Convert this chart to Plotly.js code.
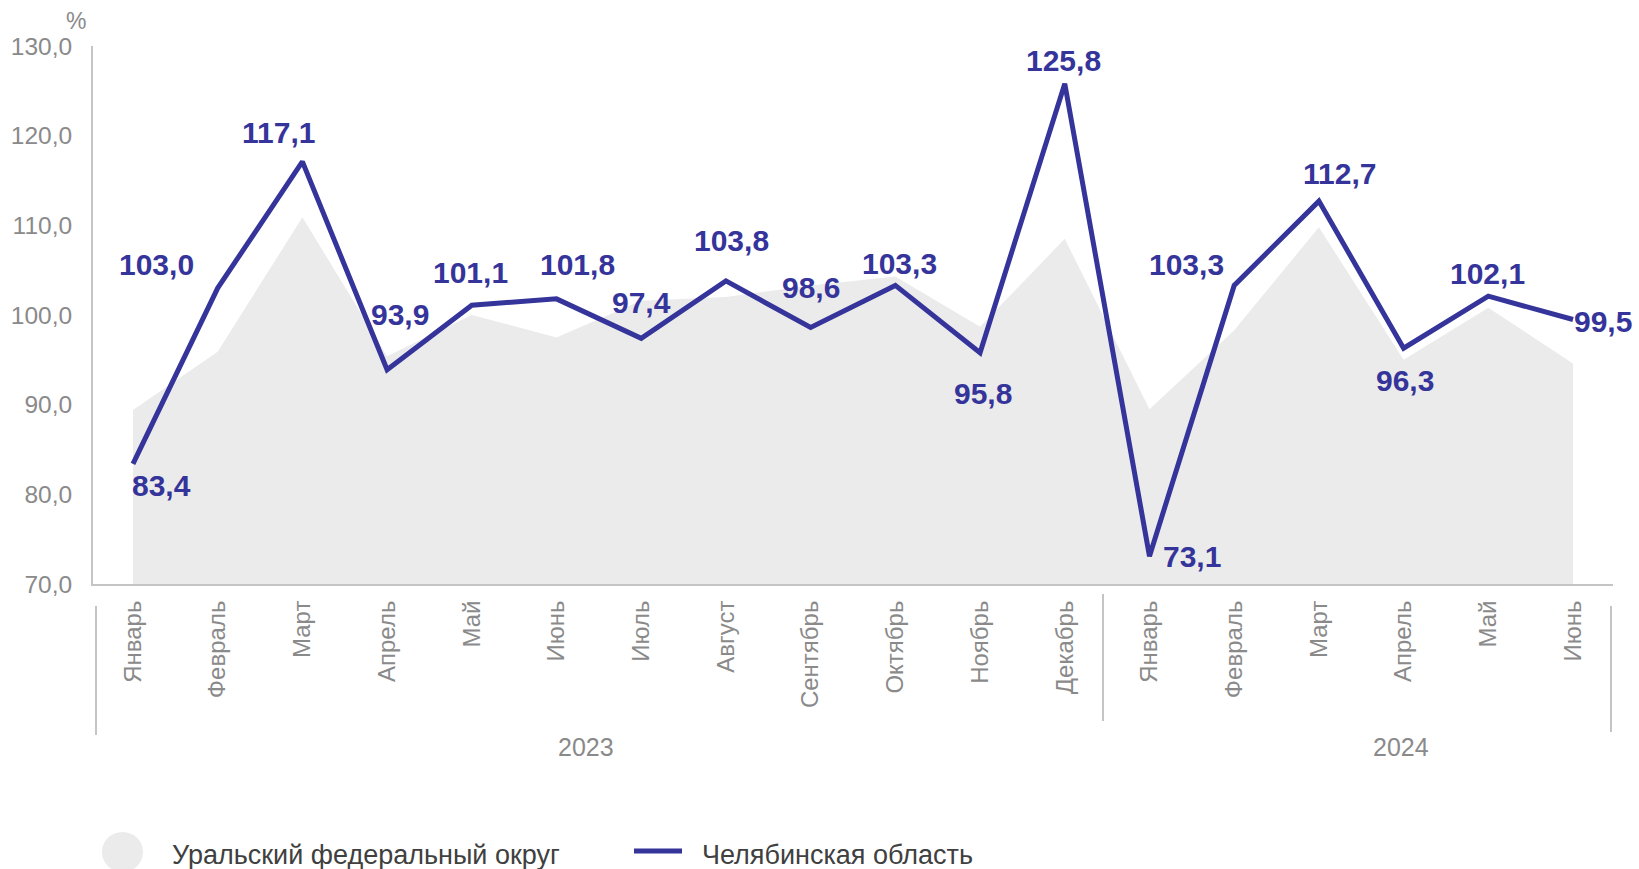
<!DOCTYPE html>
<html>
<head>
<meta charset="utf-8">
<script src="https://cdn.plot.ly/plotly-3.0.1.min.js"></script>
<style>
  html, body { margin: 0; padding: 0; background: #ffffff; }
  #chart { width: 1639px; height: 869px; }
</style>
</head>
<body>
<div id="chart"></div>
<script>
// ---- data ----
const months = ["Январь","Февраль","Март","Апрель","Май","Июнь","Июль","Август","Сентябрь","Октябрь","Ноябрь","Декабрь",
                "Январь","Февраль","Март","Апрель","Май","Июнь"];
const years = ["2023","2024"];
const ufoValues = [89.4, 95.9, 110.9, 95.4, 100.0, 97.5, 101.6, 102.0, 103.3, 104.3, 98.7, 108.5,
                   89.5, 98.3, 109.8, 95.0, 100.8, 94.6];
const chelValues = [83.4, 103.0, 117.1, 93.9, 101.1, 101.8, 97.4, 103.8, 98.6, 103.3, 95.8, 125.8,
                    73.1, 103.3, 112.7, 96.3, 102.1, 99.5];
const seriesNames = ["Уральский федеральный округ", "Челябинская область"];
const yTicks = [70, 80, 90, 100, 110, 120, 130];

// ---- layout constants (pixels) ----
const W = 1639, H = 869;
const L = 93, R = 1613, T = 46, B = 584;
const pw = R - L, ph = B - T;
const px = x => (x - L) / pw;
const py = y => (B - y) / ph;

const idx = months.map((_, i) => i);
const fmt = v => v.toFixed(1).replace('.', ',');

const lineColor = '#35349a';
const fillColor = '#ebebeb';
const axisColor = '#c4c4c4';
const font = '"Liberation Sans", Arial, sans-serif';

// label offsets [xshift, yshift] (pixels, screen: y positive = up)
const labelShift = [
  [29, -22], [-61, 24], [-24, 29], [13, 55], [-1, 33], [21, 34], [0, 36], [6, 40], [0, 40],
  [4, 22], [3, -41], [-1, 23], [43, 0], [-48, 21], [21, 28], [1, -32], [-1, 23], [30, -2]
];

const traces = [
  {
    x: idx, y: ufoValues, type: 'scatter', mode: 'none', fill: 'tozeroy',
    fillcolor: fillColor, name: seriesNames[0], showlegend: false, hoverinfo: 'skip'
  },
  {
    x: idx, y: chelValues, type: 'scatter', mode: 'lines',
    line: { color: lineColor, width: 5 }, name: seriesNames[1], showlegend: false
  }
];

const annotations = chelValues.map((v, i) => ({
  x: idx[i], y: v, xref: 'x', yref: 'y', text: fmt(v), showarrow: false,
  xanchor: 'center', yanchor: 'middle',
  xshift: labelShift[i][0], yshift: labelShift[i][1],
  font: { family: font, size: 30, color: lineColor, weight: 'bold' }
}));

// year labels
const yearPos = [586, 1401];
years.forEach((yr, k) => {
  annotations.push({
    x: px(yearPos[k]), y: py(747), xref: 'paper', yref: 'paper', text: yr, showarrow: false,
    xanchor: 'center', yanchor: 'middle',
    font: { family: font, size: 25, color: '#8a8a8a' }
  });
});

// % unit
annotations.push({
  x: px(76), y: py(21), xref: 'paper', yref: 'paper', text: '%', showarrow: false,
  xanchor: 'center', yanchor: 'middle', font: { family: font, size: 23, color: '#8a8a8a' }
});

// legend texts
annotations.push({
  x: px(170), y: py(855), xref: 'paper', yref: 'paper', text: seriesNames[0], showarrow: false,
  xanchor: 'left', yanchor: 'middle', font: { family: font, size: 27, color: '#404040' }
});
annotations.push({
  x: px(700), y: py(855), xref: 'paper', yref: 'paper', text: seriesNames[1], showarrow: false,
  xanchor: 'left', yanchor: 'middle', font: { family: font, size: 27, color: '#404040' }
});

const shapes = [
  // group dividers
  { type: 'line', xref: 'paper', yref: 'paper', x0: px(96), x1: px(96), y0: py(606), y1: py(735),
    line: { color: axisColor, width: 2 } },
  { type: 'line', xref: 'paper', yref: 'paper', x0: px(1103), x1: px(1103), y0: py(594), y1: py(721),
    line: { color: axisColor, width: 2 } },
  { type: 'line', xref: 'paper', yref: 'paper', x0: px(1611), x1: px(1611), y0: py(606), y1: py(732),
    line: { color: axisColor, width: 2 } },
  // legend symbols
  { type: 'circle', xref: 'paper', yref: 'paper', x0: px(102), x1: px(143), y0: py(872), y1: py(832),
    fillcolor: fillColor, line: { width: 0 } },
  { type: 'line', xref: 'paper', yref: 'paper', x0: px(634), x1: px(682), y0: py(851), y1: py(851),
    line: { color: lineColor, width: 5 } }
];

const layout = {
  width: W, height: H,
  margin: { l: L, r: W - R, t: T, b: H - B, pad: 0 },
  paper_bgcolor: '#ffffff', plot_bgcolor: '#ffffff',
  separators: ', ',
  showlegend: false,
  font: { family: font, color: '#8a8a8a' },
  xaxis: {
    type: 'linear', range: [-0.472, 17.472],
    tickmode: 'array', tickvals: idx, ticktext: months, tickangle: -90,
    showgrid: false, zeroline: false, showline: true, linecolor: axisColor, linewidth: 2,
    ticks: '', ticklabelstandoff: 5,
    tickfont: { family: font, size: 24, color: '#8a8a8a' }
  },
  yaxis: {
    range: [70, 130], tickmode: 'array', tickvals: yTicks, ticktext: yTicks.map(fmt),
    showgrid: false, zeroline: false, showline: true, linecolor: axisColor, linewidth: 2,
    ticks: '', ticklabelstandoff: 14,
    tickfont: { family: font, size: 24.5, color: '#8a8a8a' }
  },
  annotations: annotations,
  shapes: shapes
};

Plotly.newPlot('chart', traces, layout, { displayModeBar: false, staticPlot: true });
</script>
</body>
</html>
